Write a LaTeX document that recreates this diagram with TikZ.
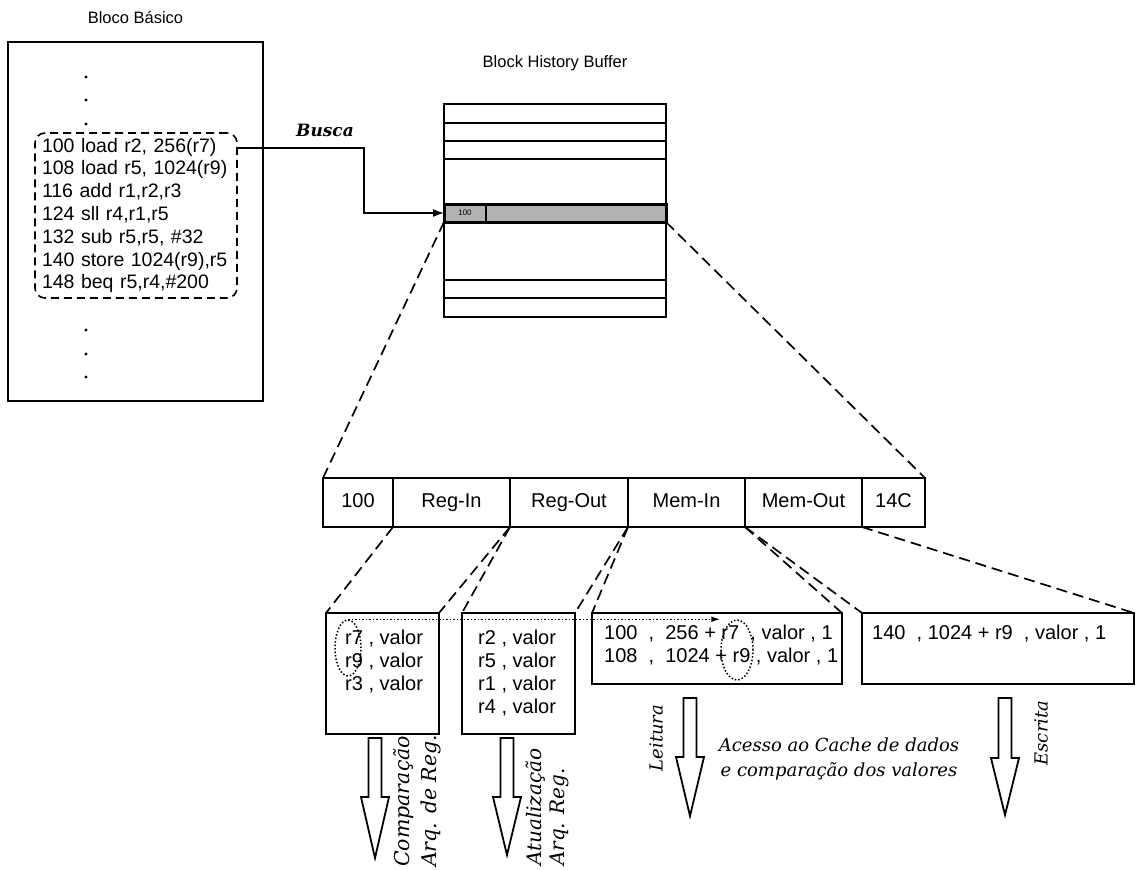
\documentclass[tikz,border=0pt]{standalone}
\usepackage{fontspec}
\setmainfont{Liberation Sans}
\newfontfamily\lblfont{DejaVu Serif}
\usetikzlibrary{positioning,shapes.geometric,arrows.meta}

\begin{document}
\begin{tikzpicture}[x=1pt,y=-1pt,
  box/.style={draw, line width=1.8pt, anchor=north west, inner sep=0pt, outer sep=0pt},
  cell/.style={draw, line width=1.8pt, outer sep=0pt, inner sep=0pt, minimum height=49pt,
    text height=14pt, text depth=4pt, font=\fontsize{20}{24}\selectfont},
  zoomline/.style={line width=1.7pt, dash pattern=on 11pt off 6pt},
  regtext/.style={font=\fontsize{20}{23}\selectfont, align=left, anchor=north west, inner sep=0pt},
  title/.style={font=\fontsize{16.5}{20}\selectfont, inner sep=0pt},
  regmark/.style={draw, dotted, line width=1.5pt, ellipse, inner sep=0pt},
  hollow/.style={draw, line width=1.8pt, fill=white},
  lbl/.style={font=\lblfont\itshape\fontsize{18}{24}\selectfont, inner sep=0pt}]
\useasboundingbox (0,0) rectangle (1138,870);

% bloco basico
\node[box, minimum width=255pt, minimum height=359pt] (blk) at (8,42) {};
\node[title, above=18pt of blk.north] (blktitle) {Bloco Básico};
\fill (86,77) circle (1.7pt);
\fill (86,100) circle (1.7pt);
\fill (86,124) circle (1.7pt);
\fill (86,330) circle (1.7pt);
\fill (86,354) circle (1.7pt);
\fill (86,377) circle (1.7pt);
\node[box, line width=1.6pt, dash pattern=on 8pt off 5pt, rounded corners=10pt, text width=188pt,
  inner xsep=7pt, minimum height=165pt, align=left,
  font=\fontsize{19.5}{22.8}\selectfont] (code) at (35,133)
  {100 load r2, 256(r7)\\108 load r5, 1024(r9)\\116 add r1,r2,r3\\124 sll r4,r1,r5\\
   132 sub r5,r5, \#32\\140 store 1024(r9),r5\\148 beq r5,r4,\#200};

% block history buffer
\node[box, minimum width=222pt, minimum height=213pt] (bhb) at (444,104) {};
\node[title, above=33pt of bhb.north] (bhbtitle) {Block History Buffer};
\draw[line width=1.8pt] (444,123) -- (666,123);
\draw[line width=1.8pt] (444,141) -- (666,141);
\draw[line width=1.8pt] (444,159) -- (666,159);
\draw[line width=1.8pt] (444,280) -- (666,280);
\draw[line width=1.8pt] (444,298) -- (666,298);
\node[box, line width=3pt, fill=black!30, minimum width=222pt, minimum height=18pt] (hist) at (444,204) {};
\draw[line width=1.6pt] (486,204) -- (486,222);
\node[font=\fontsize{8}{9}\selectfont, inner sep=0pt] (histpc) at (465,213) {100};

\draw[line width=1.6pt, -{Latex[length=11pt,width=8pt]}] ([yshift=-15pt]code.north east) -- ++(127,0) |- (hist.west);
\node[lbl, font=\lblfont\bfseries\itshape\fontsize{17}{20}\selectfont] (busca) at (325,130) {Busca};

% entrada do buffer
\node[cell, minimum width=70pt, anchor=north west] (pc) at (323,478) {100};
\node[cell, minimum width=117pt, right=0pt of pc] (regin) {Reg-In};
\node[cell, minimum width=118pt, right=0pt of regin] (regout) {Reg-Out};
\node[cell, minimum width=117pt, right=0pt of regout] (memin) {Mem-In};
\node[cell, minimum width=117pt, right=0pt of memin] (memout) {Mem-Out};
\node[cell, minimum width=63pt, right=0pt of memout] (next) {14C};

\draw[zoomline] (hist.south west) -- (pc.north west);
\draw[zoomline] (hist.south east) -- (next.north east);

% campos
\node[box, minimum width=113pt, minimum height=121pt] (rin) at (326,613) {};
\node[box, minimum width=113pt, minimum height=121pt] (rout) at (462,613) {};
\node[box, minimum width=250pt, minimum height=71pt] (min) at (592,613) {};
\node[box, minimum width=272pt, minimum height=71pt] (mout) at (862,613) {};

\node[regtext] (rintext) at (345,630) {r7 , valor\\r9 , valor\\r3 , valor};
\node[regtext] (routtext) at (478,630) {r2 , valor\\r5 , valor\\r1 , valor\\r4 , valor};
\node[regtext] (mintext) at (604,625) {100\ \ ,\ \ 256 + r7\ \ , valor , 1\\108\ \ ,\ \ 1024 + r9 , valor , 1};
\node[regtext] (mouttext) at (872,625) {140\ \ , 1024 + r9\ \ , valor , 1};

\draw[zoomline] (pc.south east) -- (rin.north west);
\draw[zoomline] (regin.south east) -- (rin.north east);
\draw[zoomline] (regout.south west) -- (rout.north west);
\draw[zoomline] (regout.south east) -- (rout.north east);
\draw[zoomline] (memin.south west) -- (min.north west);
\draw[zoomline] (memin.south east) -- (min.north east);
\draw[zoomline] (memout.south west) -- (mout.north west);
\draw[zoomline] (memout.south east) -- (mout.north east);

\node[regmark, minimum width=26pt, minimum height=56pt] (e1) at (348,648) {};
\node[regmark, minimum width=32pt, minimum height=60pt] (e3) at (737,650) {};
\draw[dotted, line width=1.5pt, -{Latex[length=9pt,width=6pt]}] (e1.north) -- (e1.north -| e3.west);

% setas
\draw[hollow] (375,738) ++(-6.5,0) -- ++(13,0) -- ++(0,59) -- ++(7.5,0) -- ++(-14,61) -- ++(-14,-61) -- ++(7.5,0) -- cycle;
\draw[hollow] (507,738) ++(-6.5,0) -- ++(13,0) -- ++(0,59) -- ++(7.5,0) -- ++(-14,58) -- ++(-14,-58) -- ++(7.5,0) -- cycle;
\draw[hollow] (690,698) ++(-6.5,0) -- ++(13,0) -- ++(0,59) -- ++(7.5,0) -- ++(-14,59) -- ++(-14,-59) -- ++(7.5,0) -- cycle;
\draw[hollow] (1005,698) ++(-6.5,0) -- ++(13,0) -- ++(0,60) -- ++(7.5,0) -- ++(-14,57) -- ++(-14,-57) -- ++(7.5,0) -- cycle;

\node[lbl, rotate=90, anchor=north west, align=left, font=\lblfont\itshape\fontsize{20.5}{27}\selectfont] (cmp) at (393,867) {Comparação\\Arq. de Reg.};
\node[lbl, rotate=90, anchor=north west, align=left, font=\lblfont\itshape\fontsize{20}{23}\selectfont] (upd) at (526,866) {Atualização\\Arq. Reg.};
\node[lbl, rotate=90] (rd) at (656,738) {Leitura};
\node[lbl, rotate=90] (wr) at (1041,733) {Escrita};
\node[lbl, align=center, font=\lblfont\itshape\fontsize{18}{25}\selectfont] (acc) at (839,759)
  {Acesso ao Cache de dados\\e comparação dos valores};
\end{tikzpicture}
\end{document}
